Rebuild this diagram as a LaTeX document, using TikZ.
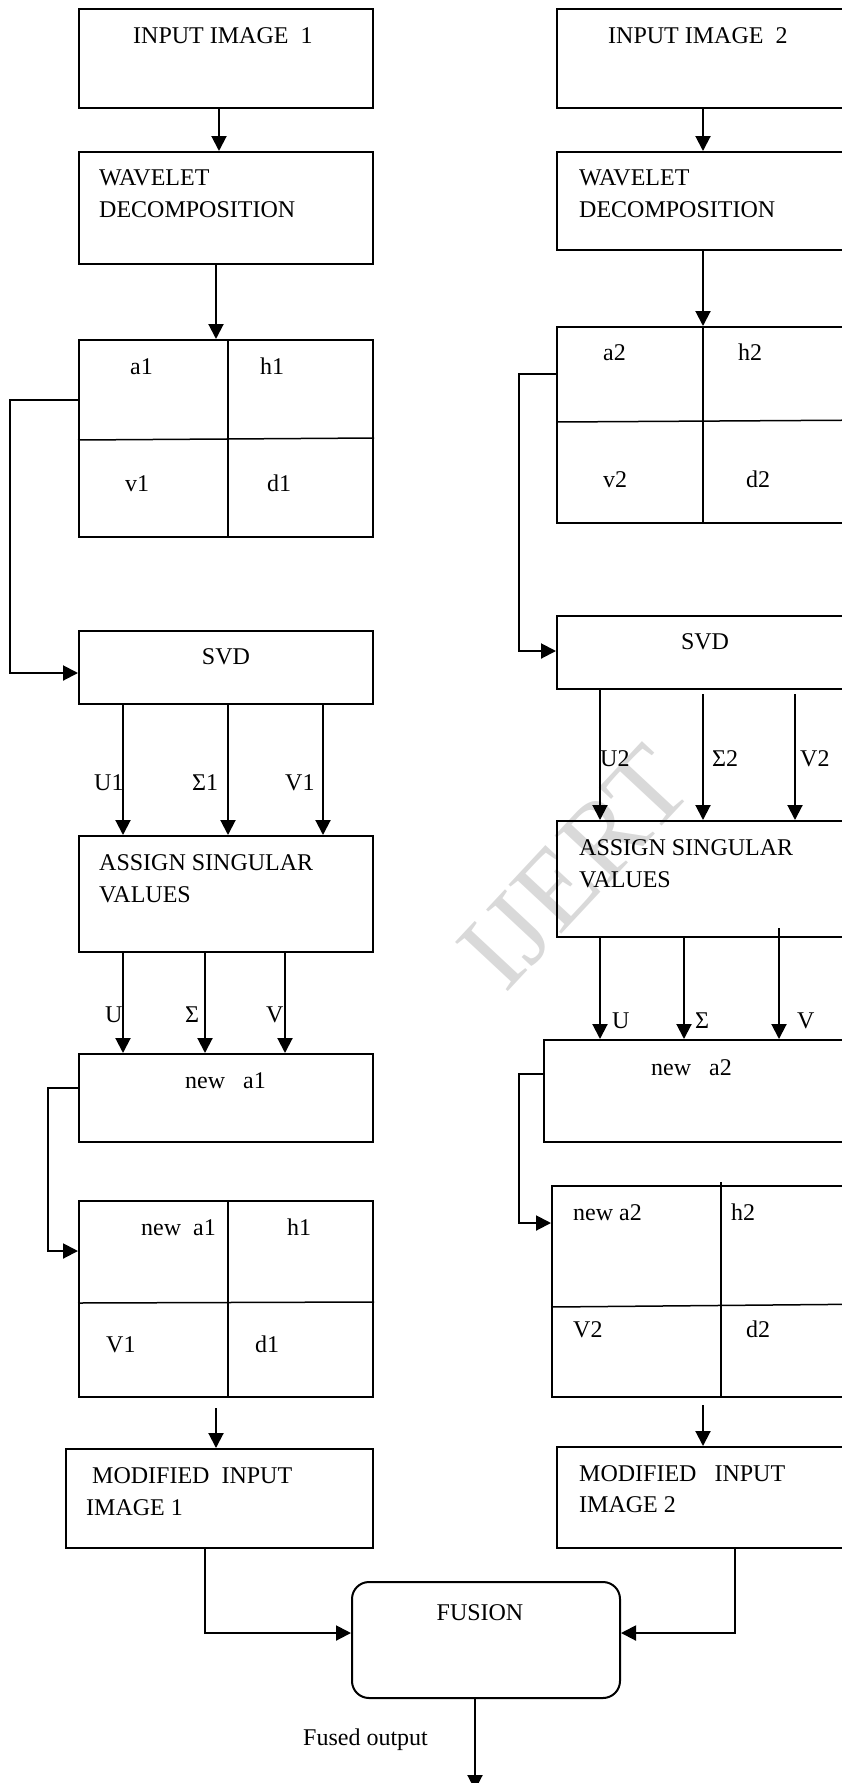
\documentclass[tikz,border=0pt]{standalone}
\usepackage{fontspec}
\setmainfont{Liberation Serif}
\usepackage{tikz}
\usetikzlibrary{arrows.meta}
\usetikzlibrary{positioning}

\begin{document}
\begin{tikzpicture}[x=1pt, y=-1pt,
  font=\fontsize{24}{29}\selectfont,
  box/.style={draw, rectangle, line width=2pt},
  arr/.style={line width=2pt, -{Triangle[width=15pt,length=15pt]}},
  div/.style={line width=1.5pt},
  txt/.style={inner sep=0pt, anchor=base west}]
\useasboundingbox (0,0) rectangle (842,1783);
\clip (0,0) rectangle (842,1783);
% Watermark
\node[text=black!15, font=\fontsize{110}{110}\selectfont, rotate=47] (wm) at (575,868) {IJERT};

% Left column (nodes)
\node[box, minimum width=294pt, minimum height=99pt] (in1) at (226,58.5) {};
\node[box, minimum width=294pt, minimum height=112pt] (wav1) at (226,208) {};
\node[box, minimum width=294pt, minimum height=197pt] (grid1) at (226,438.5) {};
\node[box, minimum width=294pt, minimum height=73pt] (svd1) at (226,667.5) {};
\node[box, minimum width=294pt, minimum height=116pt] (asv1) at (226,894) {};
\node[box, minimum width=294pt, minimum height=88pt] (na1) at (226,1098) {};
\node[box, minimum width=294pt, minimum height=196pt] (grid3) at (226,1299) {};
\node[box, minimum width=307pt, minimum height=99pt] (mod1) at (219.5,1498.5) {};

% Right column (nodes)
\node[box, minimum width=323pt, minimum height=99pt] (in2) at (718.5,58.5) {};
\node[box, minimum width=323pt, minimum height=98pt] (wav2) at (718.5,201) {};
\node[box, minimum width=323pt, minimum height=196pt] (grid2) at (718.5,425) {};
\node[box, minimum width=323pt, minimum height=73pt] (svd2) at (718.5,652.5) {};
\node[box, minimum width=323pt, minimum height=116pt] (asv2) at (718.5,879) {};
\node[box, minimum width=336pt, minimum height=102pt] (na2) at (712,1091) {};
\node[box, minimum width=328pt, minimum height=211pt] (grid4) at (716,1291.5) {};
\node[box, minimum width=323pt, minimum height=101pt] (mod2) at (718.5,1497.5) {};

% Fusion (rounded node)
\node[box, rounded corners=17pt, minimum width=268pt, minimum height=116pt] (fus) at (486,1640) {};
\coordinate (out) at (475,1790);

% Sub-band dividers
\draw[div] ([xshift=2pt]grid1.north) -- ([xshift=2pt]grid1.south);
\draw[div] ([yshift=-1.5pt]grid1.west) -- ([yshift=0.5pt]grid1.east);
\draw[div] ([xshift=-15.5pt]grid2.north) -- ([xshift=-15.5pt]grid2.south);
\draw[div] ([yshift=3pt]grid2.west) -- ([yshift=5pt]grid2.east);
\draw[div] ([xshift=2pt]grid3.north) -- ([xshift=2pt]grid3.south);
\draw[div] ([yshift=-4pt]grid3.west) -- ([yshift=-3pt]grid3.east);
\draw[div] ([xshift=5pt,yshift=3pt]grid4.north) -- ([xshift=5pt]grid4.south);
\draw[div] ([yshift=-15.5pt]grid4.west) -- ([yshift=-12.5pt]grid4.east);

% Texts (left)
\node[txt] (t1) at (133,43) {INPUT IMAGE\ \ 1};
\node[txt] (t2) at (99,185) {WAVELET};
\node[txt] (t3) at (99,217) {DECOMPOSITION};
\node[txt] (ga1) at (130,374) {a1};
\node[txt] (gh1) at (260,374) {h1};
\node[txt] (gv1) at (125,491) {v1};
\node[txt] (gd1) at (267,491) {d1};
\node[txt, anchor=base] (t4) at (226,664) {SVD};
\node[txt] (lu1) at (94,790) {U1};
\node[txt] (ls1) at (192,790) {Σ1};
\node[txt] (lv1) at (285,790) {V1};
\node[txt] (t5) at (99,870) {ASSIGN SINGULAR};
\node[txt] (t6) at (99,902) {VALUES};
\node[txt] (lu) at (105,1022) {U};
\node[txt] (ls) at (185,1022) {Σ};
\node[txt] (lv) at (266,1022) {V};
\node[txt] (t7) at (185,1088) {new\ \ \ a1};
\node[txt] (na1a) at (141,1235) {new\ \ a1};
\node[txt] (na1h) at (287,1235) {h1};
\node[txt] (na1v) at (106,1352) {V1};
\node[txt] (na1d) at (255,1352) {d1};
\node[txt] (t8) at (92,1483) {MODIFIED\ \ INPUT};
\node[txt] (t9) at (86,1515) {IMAGE 1};

% Texts (right)
\node[txt] (r1) at (608,43) {INPUT IMAGE\ \ 2};
\node[txt] (r2) at (579,185) {WAVELET};
\node[txt] (r3) at (579,217) {DECOMPOSITION};
\node[txt] (ga2) at (603,360) {a2};
\node[txt] (gh2) at (738,360) {h2};
\node[txt] (gv2) at (603,487) {v2};
\node[txt] (gd2) at (746,487) {d2};
\node[txt, anchor=base] (r4) at (705,649) {SVD};
\node[txt] (lu2) at (600,766) {U2};
\node[txt] (ls2) at (712,766) {Σ2};
\node[txt] (lv2) at (800,766) {V2};
\node[txt] (r5) at (579,855) {ASSIGN SINGULAR};
\node[txt] (r6) at (579,887) {VALUES};
\node[txt] (ru) at (612,1028) {U};
\node[txt] (rs) at (695,1028) {Σ};
\node[txt] (rv) at (797,1028) {V};
\node[txt] (r7) at (651,1075) {new\ \ \ a2};
\node[txt] (na2a) at (573,1220) {new a2};
\node[txt] (na2h) at (731,1220) {h2};
\node[txt] (na2v) at (573,1337) {V2};
\node[txt] (na2d) at (746,1337) {d2};
\node[txt] (r8) at (579,1481) {MODIFIED\ \ \ INPUT};
\node[txt] (r9) at (579,1512) {IMAGE 2};

\node[txt, anchor=base] (f1) at (480,1620) {FUSION};
\node[txt] (f2) at (303,1745) {Fused output};

% Arrows (left)
\draw[arr] ([xshift=-7pt]in1.south) -- ([xshift=-7pt]wav1.north);
\draw[arr] ([xshift=-10pt]wav1.south) -- ([xshift=-10pt]grid1.north);
\draw[arr] ([yshift=38.5pt]grid1.west) -- ++(-68,0) |- ([yshift=-5.5pt]svd1.west);
\draw[arr] ([xshift=-103pt]svd1.south) -- ([xshift=-103pt]asv1.north);
\draw[arr] ([xshift=2pt]svd1.south) -- ([xshift=2pt]asv1.north);
\draw[arr] ([xshift=97pt]svd1.south) -- ([xshift=97pt]asv1.north);
\draw[arr] ([xshift=-103pt]asv1.south) -- ([xshift=-103pt]na1.north);
\draw[arr] ([xshift=-21pt]asv1.south) -- ([xshift=-21pt]na1.north);
\draw[arr] ([xshift=59pt]asv1.south) -- ([xshift=59pt]na1.north);
\draw[arr] ([yshift=10pt]na1.west) -- ++(-30,0) |- ([yshift=48pt]grid3.west);
\draw[arr] ([xshift=-10pt,yshift=-10pt]grid3.south) -- ([xshift=-3.5pt]mod1.north);
\draw[arr] ([xshift=-14.5pt]mod1.south) |- ([yshift=7pt]fus.west);

% Arrows (right)
\draw[arr] ([xshift=-15.5pt]in2.south) -- ([xshift=-15.5pt]wav2.north);
\draw[arr] ([xshift=-15.5pt]wav2.south) -- ([xshift=-15.5pt]grid2.north);
\draw[arr] ([yshift=51pt]grid2.west) -- ++(-37,0) |- ([yshift=1.5pt]svd2.west);
\draw[arr] ([xshift=-118.5pt]svd2.south) -- ([xshift=-118.5pt]asv2.north);
\draw[arr] ([xshift=-15.5pt,yshift=-4pt]svd2.south) -- ([xshift=-15.5pt]asv2.north);
\draw[arr] ([xshift=76.5pt,yshift=-4pt]svd2.south) -- ([xshift=76.5pt]asv2.north);
\draw[arr] ([xshift=-118.5pt]asv2.south) -- ([xshift=-112pt]na2.north);
\draw[arr] ([xshift=-34.5pt]asv2.south) -- ([xshift=-28pt]na2.north);
\draw[arr] ([xshift=60.5pt,yshift=10pt]asv2.south) -- ([xshift=67pt]na2.north);
\draw[arr] ([yshift=17pt]na2.west) -- ++(-24,0) |- ([yshift=68.5pt]grid4.west);
\draw[arr] ([xshift=-13pt,yshift=-7pt]grid4.south) -- ([xshift=-15.5pt]mod2.north);
\draw[arr] ([xshift=16.5pt]mod2.south) |- ([yshift=7pt]fus.east);

% Output
\draw[arr] ([xshift=-11pt]fus.south) -- (out);
\end{tikzpicture}
\end{document}
